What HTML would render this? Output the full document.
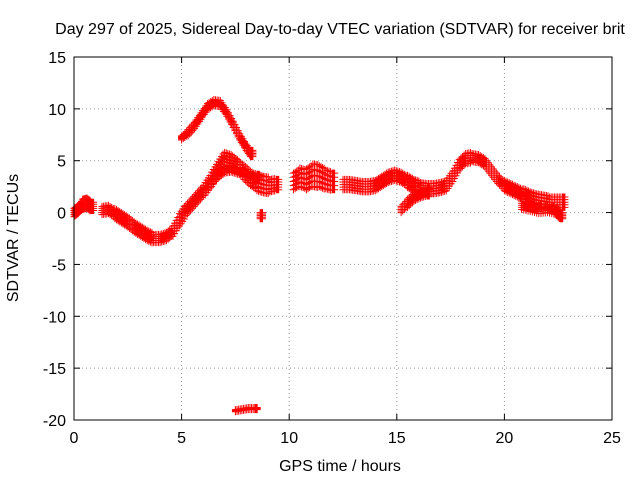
<!DOCTYPE html>
<html><head><meta charset="utf-8"><style>
body{margin:0;background:#fff}
svg{display:block;font-family:"Liberation Sans",sans-serif}
</style></head><body>
<svg id="c" width="640" height="480">
<rect width="640" height="480" fill="#fff"/>
<text x="340" y="34" font-size="16" text-anchor="middle">Day 297 of 2025, Sidereal Day-to-day VTEC variation (SDTVAR) for receiver brit</text>
<text x="340" y="471" font-size="16" text-anchor="middle">GPS time / hours</text>
<text transform="translate(18,238) rotate(-90)" font-size="16" text-anchor="middle">SDTVAR / TECUs</text>
<g id="grid"></g><g id="ticks"></g><g id="pts"></g>
<rect x="74" y="57" width="538" height="363" fill="none" stroke="#000"/>
</svg>
<script>
const xTicks=[0,5,10,15,20,25];
const yTicks=[15,10,5,0,-5,-10,-15,-20];
// each track: hours, values, band half-widths (TECU)
const t1h=[0,0.2,0.4,0.6,0.8,1.3,1.6,1.9,2.2,2.5,2.8,3.1,3.4,3.7,4.0,4.3,4.6,4.9,5.2,5.5,5.8,6.1,6.4,6.7,7.0,7.3,7.6,7.9,8.2,8.5,8.8,9.1,9.4];
const t1v=[0,0.3,0.8,0.9,0.6,0.2,0.3,-0.1,-0.5,-0.9,-1.4,-1.8,-2.2,-2.5,-2.5,-2.3,-1.8,-0.7,0.2,0.9,1.6,2.3,3.2,4.2,5.2,5.0,4.5,3.9,3.3,2.9,2.7,2.6,2.7];
const t1s=[0.4,0.4,0.5,0.5,0.4,0.4,0.4,0.5,0.5,0.5,0.5,0.5,0.5,0.4,0.4,0.4,0.5,0.6,0.5,0.5,0.5,0.6,0.7,0.7,0.6,0.6,0.6,0.7,0.7,0.8,0.8,0.6,0.5];
const t2h=[5.0,5.3,5.6,5.9,6.2,6.5,6.8,7.1,7.4,7.7,8.0,8.2];
const t2v=[7.2,7.7,8.4,9.3,10.2,10.6,10.5,9.6,8.5,7.3,6.3,5.7];
const t2s=[0.2,0.3,0.3,0.3,0.3,0.3,0.3,0.3,0.3,0.3,0.3,0.3];
const t3h=[6.4,6.7,7.0,7.3,7.6,7.9,8.2,8.5];
const t3v=[3.0,3.6,4.1,4.2,4.0,3.8,3.6,3.4];
const t3s=[0.3,0.3,0.3,0.3,0.3,0.3,0.3,0.3];
const t4h=[7.5,7.8,8.1,8.4];
const t4v=[-19.1,-19.0,-18.9,-18.9];
const t4s=[0.1,0.1,0.1,0.1];
const t8h=[8.65];
const t8v=[-0.3];
const t8s=[0.3];
const t5h=[10.2,10.5,10.8,11.1,11.4,11.7,12.0];
const t5v=[3.0,3.4,3.2,3.6,3.5,3.2,3.0];
const t5s=[0.8,0.9,1.0,1.1,1.0,0.9,0.8];
const t6h=[12.5,12.8,13.1,13.4,13.7,14.0,14.3,14.6,14.9,15.2,15.5,15.8,16.1,16.4,16.7,17.0,17.3,17.6,17.9,18.2,18.5,18.8,19.1,19.4,19.7,20.0,20.3,20.6,20.9,21.2,21.5,21.8,22.1,22.4,22.7];
const t6v=[2.7,2.7,2.6,2.5,2.5,2.6,3.0,3.4,3.6,3.4,3.0,2.6,2.4,2.3,2.3,2.4,2.6,3.5,4.6,5.2,5.3,5.2,4.8,4.0,3.2,2.6,2.3,2.0,1.7,1.4,1.2,1.1,1.0,1.0,1.0];
const t6s=[0.5,0.5,0.5,0.5,0.5,0.5,0.5,0.5,0.5,0.5,0.6,0.6,0.5,0.5,0.5,0.5,0.5,0.5,0.5,0.5,0.4,0.4,0.4,0.4,0.4,0.5,0.5,0.5,0.6,0.6,0.6,0.6,0.5,0.5,0.5];
const t7h=[15.2,15.5,15.8,16.1,16.4,20.8,21.2,21.6,22.0,22.4,22.6];
const t7v=[0.3,0.9,1.5,1.8,2.0,0.7,0.5,0.3,0.4,0.2,-0.3];
const t7s=[0.3,0.4,0.4,0.4,0.4,0.4,0.4,0.4,0.4,0.4,0.3];
const tracks=[[t1h,t1v,t1s],[t2h,t2v,t2s],[t3h,t3v,t3s],[t4h,t4v,t4s],[t8h,t8v,t8s],[t5h,t5v,t5s],[t6h,t6v,t6s],[t7h,t7v,t7s]];
const X0=74,X1=612,Y0=420,Y1=57;
const sx=h=>X0+(h-0)/25*(X1-X0);
const sy=v=>Y0-(v+20)/35*(Y0-Y1);
const NS="http://www.w3.org/2000/svg";
const g=document.getElementById('grid'),tk=document.getElementById('ticks'),pts=document.getElementById('pts');
function mk(tag,at,par){const e=document.createElementNS(NS,tag);for(const k in at)e.setAttribute(k,at[k]);par.appendChild(e);return e;}
xTicks.forEach(t=>{const x=sx(t);
 if(t>0&&t<25){const l=mk('line',{x1:x,x2:x,y1:Y1,y2:Y0,stroke:'#999','stroke-dasharray':'1,3'},g);
 
 }
 const tx=mk('text',{x:x,y:Y0+23,'font-size':16,'text-anchor':'middle'},tk);tx.textContent=t;
 
 
 mk('line',{x1:x,x2:x,y1:Y0,y2:Y0-6,stroke:'#000'},tk);mk('line',{x1:x,x2:x,y1:Y1,y2:Y1+6,stroke:'#000'},tk);});
yTicks.forEach(t=>{const y=sy(t);
 if(t<15&&t>-20){const l=mk('line',{x1:X0,x2:X1,y1:y,y2:y,stroke:'#999','stroke-dasharray':'1,3'},g);
 
 }
 const tx=mk('text',{x:X0-8,y:y+6,'font-size':16,'text-anchor':'end'},tk);tx.textContent=t;
 
 
 mk('line',{x1:X0,x2:X0+6,y1:y,y2:y,stroke:'#000'},tk);mk('line',{x1:X1,x2:X1-6,y1:y,y2:y,stroke:'#000'},tk);});
let d='';
tracks.forEach(([hs,vs,ss])=>{for(let i=0;i<hs.length;i++){
 const cont=i+1<hs.length&&hs[i+1]-hs[i]<0.5;
 const nxt=cont?hs[i+1]:hs[i]+0.15;
 for(let k=0;k<4;k++){const h=hs[i]+(nxt-hs[i])*k/4;const hv=cont?vs[i]+(vs[i+1]-vs[i])*k/4:vs[i];
  for(let j=-2;j<=2;j++){const x=sx(h),y=sy(hv+ss[i]*j/2);d+=`M${x-3.5},${y}h7M${x},${y-3.5}v7`;}}
}});
const p=mk('path',{d:d,stroke:'#f00','stroke-width':1,fill:'none'},pts);


</script>
</body></html>
